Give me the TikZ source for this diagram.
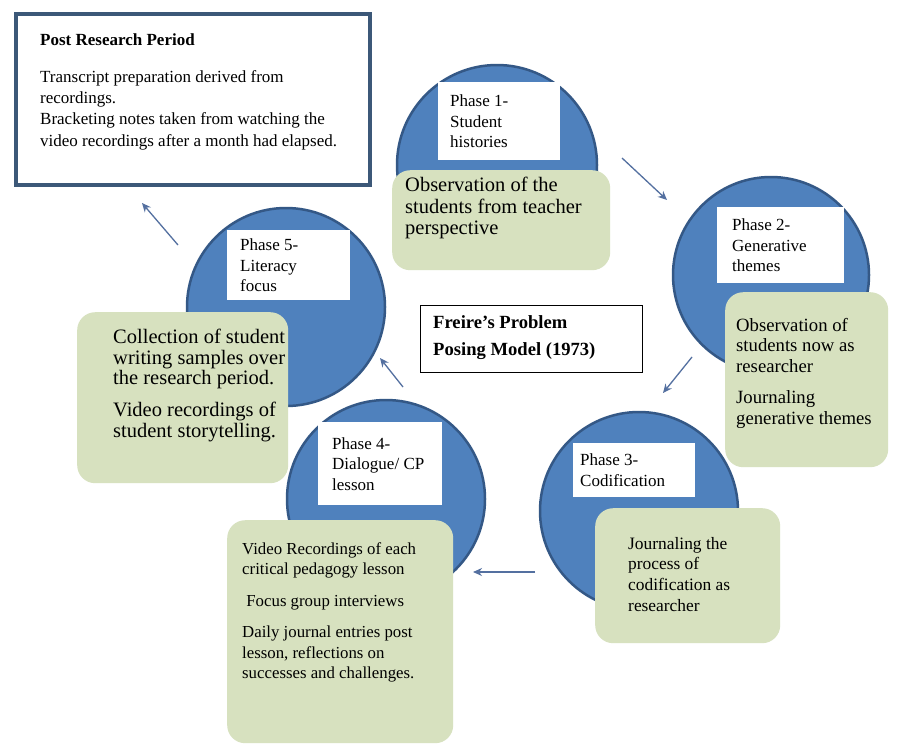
\documentclass[tikz,border=0pt]{standalone}
\usepackage{fontspec}
\setmainfont{Liberation Serif}
\usetikzlibrary{arrows.meta}
\definecolor{circfill}{RGB}{79,129,189}
\definecolor{circedge}{RGB}{52,88,134}
\definecolor{greenfill}{RGB}{215,225,191}
\definecolor{arrowcol}{RGB}{84,112,160}
\definecolor{postedge}{RGB}{60,88,120}
\newcommand{\fs}[2]{\fontsize{#1}{#2}\selectfont}
\tikzset{
  phasecirc/.style={circle, fill=circfill, draw=circedge, line width=2.5pt, inner sep=0pt},
  labelbox/.style={rectangle, fill=white, inner xsep=12pt, inner ysep=0pt, align=flush left, anchor=north west, font=\fs{17}{20.5}},
  greenbox/.style={rectangle, rounded corners=18pt, fill=greenfill, inner sep=0pt, anchor=north west},
  txt/.style={anchor=north west, inner sep=0pt, align=left},
  flow/.style={draw=arrowcol, line width=1.3pt, -{Stealth[length=9pt,width=8pt]}},
}
\begin{document}
\begin{tikzpicture}[x=1pt,y=-1pt]
\useasboundingbox[fill=white] (0,0) rectangle (901,753);

% Post research box
\node[rectangle, draw=postedge, line width=4pt, fill=white, anchor=north west, minimum width=354pt, minimum height=171pt, inner sep=0pt] (post) at (14,12) {};
\node[txt, font=\fs{17}{21}\bfseries] (posttitle) at (40,34) {Post Research Period};
\node[txt, font=\fs{17}{21.3}] (posttext) at (40,70) {Transcript preparation derived from\\recordings.\\Bracketing notes taken from watching the\\video recordings after a month had elapsed.};

% Phase circles
\node[phasecirc, minimum size=200pt] (c1) at (497,165) {};
\node[phasecirc, minimum size=196pt] (c2) at (771,275) {};
\node[phasecirc, minimum size=198pt] (c3) at (639,511) {};
\node[phasecirc, minimum size=198pt] (c4) at (386,499) {};
\node[phasecirc, minimum size=198pt] (c5) at (286,307) {};

% Labels
\node[labelbox, minimum width=122pt, minimum height=78pt, text width=98pt] (l1) at (438,82) {Phase 1-\\Student\\histories};
\node[labelbox, minimum width=121pt, minimum height=76pt, text width=97pt, inner xsep=15pt] (l2) at (717,207) {Phase 2-\\Generative\\themes};
\node[labelbox, minimum width=122pt, minimum height=54pt, text width=108pt, inner xsep=7pt] (l3) at (573,443) {Phase 3-\\Codification};
\node[labelbox, minimum width=122pt, minimum height=83pt, text width=96pt, inner xsep=14pt] (l4) at (318,422) {Phase 4-\\Dialogue/ CP\\lesson};
\node[labelbox, minimum width=121pt, minimum height=70pt, text width=97pt, inner xsep=13pt] (l5) at (227,230) {Phase 5-\\Literacy\\focus};

% Green boxes
\node[greenbox, minimum width=218pt, minimum height=100pt] (g1) at (392,170) {};
\node[greenbox, minimum width=163pt, minimum height=175pt] (g2) at (725,292) {};
\node[greenbox, minimum width=185pt, minimum height=135pt] (g3) at (595,508) {};
\node[greenbox, minimum width=226pt, minimum height=223pt] (g4) at (227,520) {};
\node[greenbox, minimum width=211pt, minimum height=171pt] (g5) at (77,312) {};

\node[txt, font=\fs{20.5}{21.5}] (t1) at (405,177) {Observation of the\\students from teacher\\perspective};
\node[txt, font=\fs{18.7}{20.5}] (t2) at (736,318) {Observation of\\students now as\\researcher\\[11pt]Journaling\\generative themes};
\node[txt, font=\fs{17.4}{20.7}] (t3) at (628,537) {Journaling the\\process of\\codification as\\researcher};
\node[txt, font=\fs{16.8}{20.3}] (t4) at (242,542) {Video Recordings of each\\critical pedagogy lesson\\[11.5pt]\ Focus group interviews\\[11.5pt]Daily journal entries post\\lesson, reflections on\\successes and challenges.};
\node[txt, font=\fs{20.5}{20.5}] (t5) at (113,329) {Collection of student\\writing samples over\\the research period.\\[11.5pt]Video recordings of\\student storytelling.};

% Centre title
\node[rectangle, draw=black, line width=1.4pt, fill=white, anchor=north west, minimum width=222pt, minimum height=67pt, inner sep=0pt] (centre) at (420,305) {};
\node[txt, font=\fs{18.6}{27}\bfseries] (centretext) at (433,315) {Freire’s Problem\\Posing Model (1973)};

% Arrows
\coordinate (a1s) at (622,158); \coordinate (a1e) at (667,200);
\coordinate (a2s) at (692,357); \coordinate (a2e) at (663,393);
\coordinate (a3s) at (535,572); \coordinate (a3e) at (473,572);
\coordinate (a4s) at (403,387); \coordinate (a4e) at (380,358);
\coordinate (a5s) at (178,245); \coordinate (a5e) at (142,203);
\draw[flow] (a1s) -- (a1e);
\draw[flow] (a2s) -- (a2e);
\draw[flow] (a3s) -- (a3e);
\draw[flow] (a4s) -- (a4e);
\draw[flow] (a5s) -- (a5e);
\end{tikzpicture}
\end{document}
